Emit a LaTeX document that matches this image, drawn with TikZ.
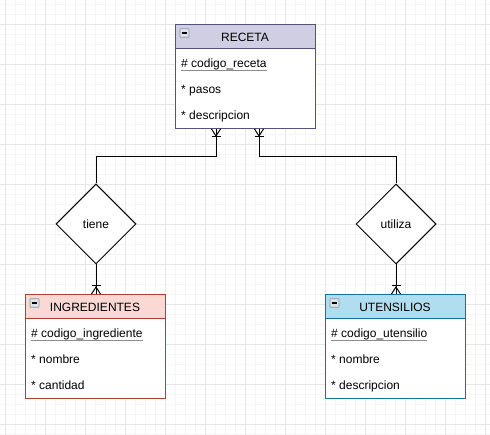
\documentclass[tikz,border=0pt]{standalone}
\usepackage{fontspec}
\setmainfont{Liberation Sans}
\usetikzlibrary{shapes.geometric,calc}
\definecolor{recF}{HTML}{D0CEE2}\definecolor{recS}{HTML}{56517E}
\definecolor{ingF}{HTML}{FAD9D5}\definecolor{ingS}{HTML}{AE4132}
\definecolor{utF}{HTML}{B1DDF0}\definecolor{utS}{HTML}{10739E}
\definecolor{gridminor}{HTML}{F5F5F5}\definecolor{gridmajor}{HTML}{E6E6E6}
\definecolor{iconF}{HTML}{DDE3EA}\definecolor{iconS}{HTML}{8A95A3}
\definecolor{ulcol}{HTML}{8C8C8C}
\tikzset{
  hdr/.style={draw=#1, line width=1pt, minimum width=140pt, minimum height=24pt, inner sep=0pt, anchor=north},
  bodybox/.style={draw=#1, line width=1pt, fill=white, minimum width=140pt, minimum height=80pt, inner sep=0pt, anchor=north},
  title/.style={font=\fontsize{12}{14}\selectfont, anchor=base, inner sep=0pt},
  attr/.style={font=\fontsize{12}{14}\selectfont, anchor=base west, inner sep=0pt},
  rel/.style={diamond, draw, line width=1pt, fill=white, minimum width=80pt, minimum height=80pt, inner sep=0pt, font=\fontsize{12}{14}\selectfont},
  conn/.style={line width=1pt, black},
  uline/.style={draw=ulcol, line width=0.9pt},
  icon/.style={draw=iconS, fill=iconF, line width=0.6pt, minimum width=9pt, minimum height=8.5pt, inner sep=0pt, rounded corners=0.5pt},
}
\newcommand\minusicon[2]{%
  \node[icon] (#1) at (#2) {};
  \draw[line width=1.3pt] ([xshift=-2.8pt]#1.center) -- ([xshift=2.8pt]#1.center);}
\begin{document}
\begin{tikzpicture}[x=1pt,y=-1pt]
\useasboundingbox (0,0) rectangle (490,435);
\fill[white] (0,0) rectangle (490,435);
% grid
\foreach \x in {5,15,...,485} \draw[gridminor, line width=0.8pt] (\x,0) -- (\x,435);
\foreach \y in {4,14,...,434} \draw[gridminor, line width=0.8pt] (0,\y) -- (490,\y);
\foreach \x in {5,45,...,485} \draw[gridmajor, line width=0.8pt] (\x,0) -- (\x,435);
\foreach \y in {24,64,...,424} \draw[gridmajor, line width=0.8pt] (0,\y) -- (490,\y);

% RECETA
\node[hdr=recS, fill=recF] (recH) at (245,24) {};
\node[bodybox=recS] (recB) at (245,48) {};
\minusicon{recI}{184.5,33}
\node[title] (recT) at (245,42) {RECETA};
\node[attr] (recA1) at (181,68) {\# codigo\_receta};
\draw[uline] ($(recA1.base west)+(0,2.2)$) -- ($(recA1.base east)+(0,2.2)$);
\node[attr] (recA2) at (181,94) {* pasos};
\node[attr] (recA3) at (181,120) {* descripcion};

% INGREDIENTES
\node[hdr=ingS, fill=ingF] (ingH) at (95,294) {};
\node[bodybox=ingS] (ingB) at (95,318) {};
\minusicon{ingI}{34.5,303}
\node[title] (ingT) at (95,312) {INGREDIENTES};
\node[attr] (ingA1) at (31,338) {\# codigo\_ingrediente};
\draw[uline] ($(ingA1.base west)+(0,2.2)$) -- ($(ingA1.base east)+(0,2.2)$);
\node[attr] (ingA2) at (31,364) {* nombre};
\node[attr] (ingA3) at (31,390) {* cantidad};

% UTENSILIOS
\node[hdr=utS, fill=utF] (utH) at (395,294) {};
\node[bodybox=utS] (utB) at (395,318) {};
\minusicon{utI}{334.5,303}
\node[title] (utT) at (395,312) {UTENSILIOS};
\node[attr] (utA1) at (331,338) {\# codigo\_utensilio};
\draw[uline] ($(utA1.base west)+(0,2.2)$) -- ($(utA1.base east)+(0,2.2)$);
\node[attr] (utA2) at (331,364) {* nombre};
\node[attr] (utA3) at (331,390) {* descripcion};

% relationships
\node[rel] (tiene) at (96,224) {tiene};
\node[rel] (utiliza) at (396,224) {utiliza};

% connectors
\coordinate (r1) at ($(recB.south)+(-29,0)$);
\coordinate (r2) at ($(recB.south)+(14,0)$);
\draw[conn] (r1) -- ($(r1)+(0,28)$) -| (tiene.north);
\draw[conn] (r2) -- ($(r2)+(0,28)$) -| (utiliza.north);
\draw[conn] (tiene.south) -- (tiene.south |- ingH.north);
\draw[conn] (utiliza.south) -- (utiliza.south |- utH.north);

% crow's feet (one-to-many)
\foreach \p in {r1,r2} {
  \draw[conn] ($(\p)+(-4.5,0)$) -- ($(\p)+(0,7)$) -- ($(\p)+(4.5,0)$);
  \draw[conn] ($(\p)+(-4.5,8)$) -- ($(\p)+(4.5,8)$);
}
\coordinate (i1) at (tiene.south |- ingH.north);
\coordinate (u1) at (utiliza.south |- utH.north);
\foreach \p in {i1,u1} {
  \draw[conn] ($(\p)+(-4.5,0)$) -- ($(\p)+(0,-7)$) -- ($(\p)+(4.5,0)$);
  \draw[conn] ($(\p)+(-4.5,-8)$) -- ($(\p)+(4.5,-8)$);
}
\end{tikzpicture}
\end{document}
